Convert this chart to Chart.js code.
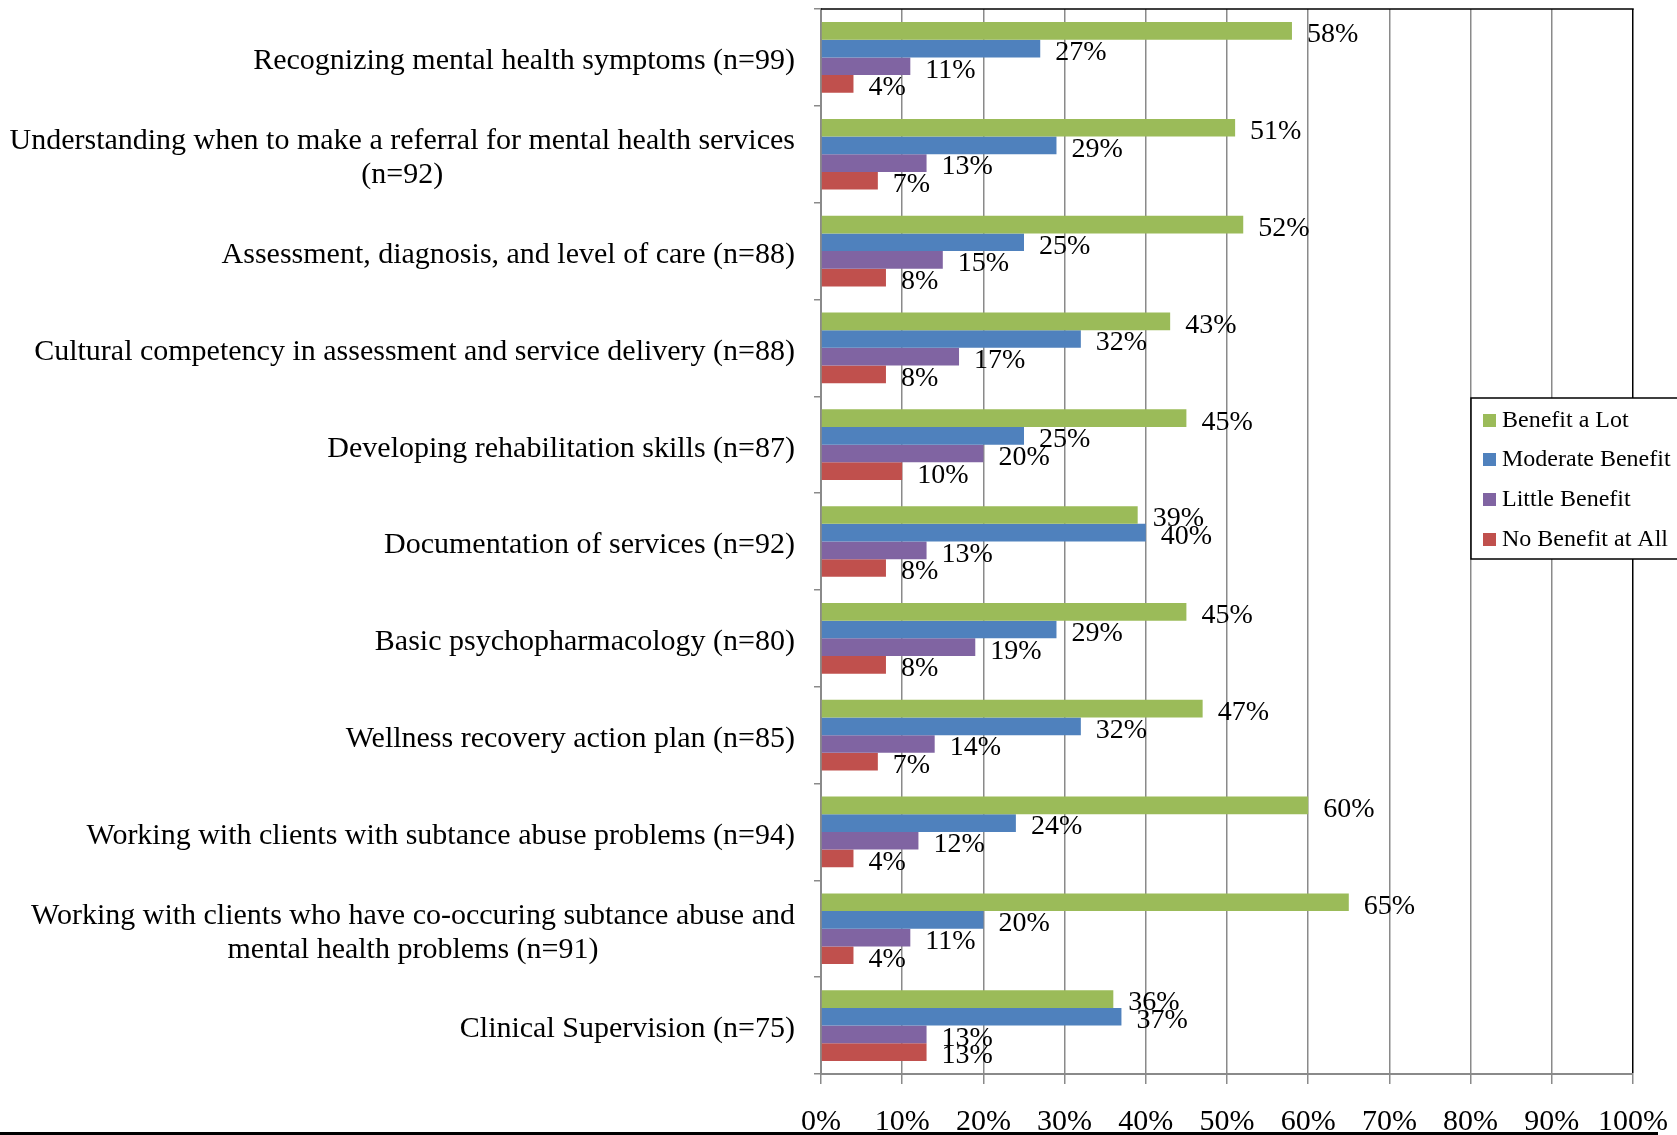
<!DOCTYPE html>
<html>
<head>
<meta charset="utf-8">
<script src="https://cdn.jsdelivr.net/npm/chart.js@4/dist/chart.umd.min.js"></script>
<style>
  html, body { margin: 0; padding: 0; background: #ffffff; }
  #wrap { width: 1677px; height: 1135px; position: relative; }
</style>
</head>
<body>
<div id="wrap"><canvas id="chart" width="1677" height="1135"></canvas></div>
<script>
// Training topics (each entry is the list of lines in the axis label)
const categories = [
  ['Recognizing mental health symptoms (n=99)'],
  ['Understanding when to make a referral for mental health services', '(n=92)'],
  ['Assessment, diagnosis, and level of care (n=88)'],
  ['Cultural competency in assessment and service delivery (n=88)'],
  ['Developing rehabilitation skills (n=87)'],
  ['Documentation of services (n=92)'],
  ['Basic psychopharmacology (n=80)'],
  ['Wellness recovery action plan (n=85)'],
  ['Working with clients with subtance abuse problems (n=94)'],
  ['Working with clients who have co-occuring subtance abuse and', 'mental health problems (n=91)'],
  ['Clinical Supervision (n=75)']
];

// Percent of respondents per rating
const benefitALot     = [58, 51, 52, 43, 45, 39, 45, 47, 60, 65, 36];
const moderateBenefit = [27, 29, 25, 32, 25, 40, 29, 32, 24, 20, 37];
const littleBenefit   = [11, 13, 15, 17, 20, 13, 19, 14, 12, 11, 13];
const noBenefitAtAll  = [ 4,  7,  8,  8, 10,  8,  8,  7,  4,  4, 13];

const seriesNames  = ['Benefit a Lot', 'Moderate Benefit', 'Little Benefit', 'No Benefit at All'];
const seriesValues = [benefitALot, moderateBenefit, littleBenefit, noBenefitAtAll];
const seriesColors = ['#9BBB59', '#4F81BD', '#8064A2', '#C0504D'];

// Value axis ticks (percent)
const xMin = 0, xMax = 100, xStep = 10;

const SERIF = '"Liberation Serif", "Times New Roman", serif';
const GRID_GRAY = '#8a8a8a';

// Multi-line category labels, right-aligned as a block with centred lines
const categoryLabels = {
  id: 'categoryLabels',
  afterDraw(chart) {
    const ys = chart.scales.y;
    const ctx = chart.ctx;
    ctx.save();
    ctx.font = '30px ' + SERIF;
    ctx.fillStyle = '#000';
    ctx.textAlign = 'center';
    ctx.textBaseline = 'middle';
    const rightEdge = chart.chartArea.left - 26;
    const lineHeight = 34;
    categories.forEach((lines, i) => {
      const cy = ys.getPixelForValue(i) + 4;
      const w = Math.max(...lines.map(l => ctx.measureText(l).width));
      const cx = rightEdge - w / 2;
      lines.forEach((l, j) => {
        ctx.fillText(l, cx, cy + (j - (lines.length - 1) / 2) * lineHeight);
      });
    });
    ctx.restore();
  }
};

// Percent labels just past the end of every bar
const barValueLabels = {
  id: 'barValueLabels',
  afterDatasetsDraw(chart) {
    const ctx = chart.ctx;
    ctx.save();
    ctx.font = '28px ' + SERIF;
    ctx.fillStyle = '#000';
    ctx.textAlign = 'left';
    ctx.textBaseline = 'middle';
    chart.data.datasets.forEach((ds, i) => {
      const meta = chart.getDatasetMeta(i);
      meta.data.forEach((bar, j) => {
        ctx.fillText(ds.data[j] + '%', bar.x + 15, bar.y + 4);
      });
    });
    ctx.restore();
  }
};

// Plot frame, legend box and the rule under the axis labels
const frameAndLegend = {
  id: 'frameAndLegend',
  afterDraw(chart) {
    const ctx = chart.ctx;
    const a = chart.chartArea;
    ctx.save();
    // top edge of the plot area
    ctx.strokeStyle = '#000';
    ctx.lineWidth = 1.5;
    ctx.beginPath();
    ctx.moveTo(a.left, a.top);
    ctx.lineTo(a.right + 0.75, a.top);
    ctx.stroke();

    // legend
    const lx = 1471, ly = 398, lh = 161;
    ctx.fillStyle = '#fff';
    ctx.fillRect(lx, ly, 230, lh);
    ctx.strokeStyle = '#000';
    ctx.lineWidth = 1.5;
    ctx.strokeRect(lx, ly, 230, lh);
    ctx.font = '24px ' + SERIF;
    ctx.textAlign = 'left';
    ctx.textBaseline = 'middle';
    const rows = [421, 460, 500, 540];
    seriesNames.forEach((name, i) => {
      ctx.fillStyle = seriesColors[i];
      ctx.fillRect(lx + 12, rows[i] - 7, 13, 13);
      ctx.fillStyle = '#000';
      ctx.fillText(name, lx + 31, rows[i]);
    });

    // page rule at the bottom
    ctx.fillStyle = '#000';
    ctx.fillRect(0, 1132, 1658, 3);
    ctx.restore();
  }
};

new Chart(document.getElementById('chart'), {
  type: 'bar',
  data: {
    labels: categories.map(l => l.join(' ')),
    datasets: seriesNames.map((name, i) => ({
      label: name,
      data: seriesValues[i],
      backgroundColor: seriesColors[i],
      borderWidth: 0,
      categoryPercentage: 0.73,
      barPercentage: 1.0
    }))
  },
  options: {
    indexAxis: 'y',
    responsive: false,
    animation: false,
    devicePixelRatio: 1,
    layout: { padding: { top: 9, right: 44, bottom: 0, left: 0 } },
    plugins: {
      legend: { display: false },
      tooltip: { enabled: false },
      title: { display: false }
    },
    scales: {
      x: {
        type: 'linear',
        position: 'bottom',
        min: xMin,
        max: xMax,
        ticks: {
          stepSize: xStep,
          callback: v => v + '%',
          font: { family: SERIF, size: 30 },
          color: '#000',
          padding: 20,
          maxRotation: 0,
          autoSkip: false
        },
        grid: {
          color: c => (c.tick && c.tick.value === xMax) ? '#000' : GRID_GRAY,
          tickColor: GRID_GRAY,
          lineWidth: 1.5,
          tickLength: 10,
          drawTicks: true
        },
        border: { color: GRID_GRAY, width: 2 },
        afterFit: s => { s.height = 61; s.paddingLeft = 0; s.paddingRight = 0; }
      },
      y: {
        type: 'category',
        offset: true,
        ticks: { callback: () => '' },
        grid: {
          offset: true,
          drawOnChartArea: false,
          color: GRID_GRAY,
          lineWidth: 1.5,
          tickLength: 7
        },
        border: { color: GRID_GRAY, width: 2 },
        afterFit: s => { s.width = 821; s.paddingTop = 0; s.paddingBottom = 0; }
      }
    }
  },
  plugins: [barValueLabels, categoryLabels, frameAndLegend]
});
</script>
</body>
</html>
